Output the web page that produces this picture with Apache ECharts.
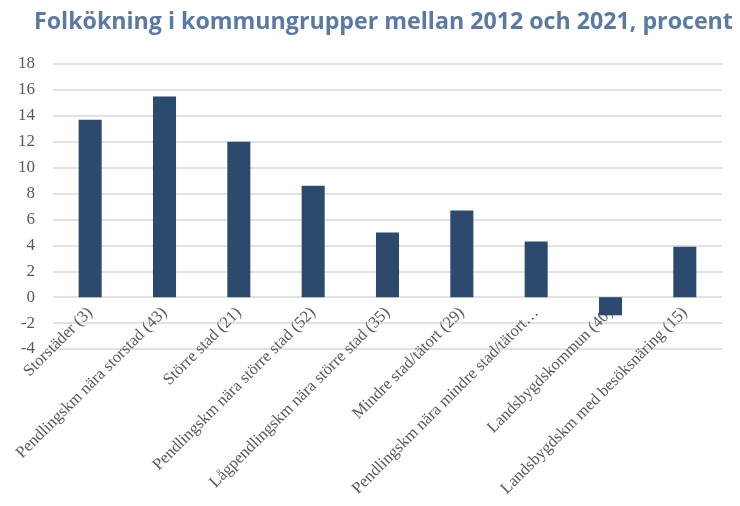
<!DOCTYPE html>
<html>
<head>
<meta charset="utf-8">
<script src="https://cdn.jsdelivr.net/npm/echarts@6/dist/echarts.min.js"></script>
<style>
    html, body { margin: 0; padding: 0; background: #fff; }
    #chart { width: 740px; height: 506px; }
</style>
</head>
<body>
<div id="chart"></div>
<script>
    // kommungrupper och folkökning 2012-2021 (procent)
    const categories = [
        "Storstäder (3)",
        "Pendlingskm nära storstad (43)",
        "Större stad (21)",
        "Pendlingskm nära större stad (52)",
        "Lågpendlingskm nära större stad (35)",
        "Mindre stad/tätort (29)",
        "Pendlingskm nära mindre stad/tätort…",
        "Landsbygdskommun (40)",
        "Landsbygdskm med besöksnäring (15)"
    ];
    const values = [13.7, 15.5, 12.0, 8.6, 5.0, 6.7, 4.3, -1.4, 3.9];
    const yTicks = { min: -4, max: 18, interval: 2 };

    const gridTop = 64;
    const gridBottom = 157;
    const plotHeight = 506 - gridTop - gridBottom;
    // flytta kategoriaxeln upp till 0-linjen (som i Excel)
    const zeroOffset = -plotHeight * (0 - yTicks.min) / (yTicks.max - yTicks.min);

    const chart = echarts.init(document.getElementById("chart"));

    const option = {
        animation: false,
        title: {
            text: "Folkökning i kommungrupper mellan 2012 och 2021, procent",
            left: 29,
            top: 6,
            textStyle: {
                fontFamily: "Open Sans",
                fontWeight: "bold",
                fontSize: 23.2,
                color: "#5a7aa3"
            }
        },
        grid: {
            left: 53,
            right: 18,
            top: gridTop,
            bottom: gridBottom,
            containLabel: false,
            outerBoundsMode: "none"
        },
        xAxis: {
            type: "category",
            data: categories,
            offset: zeroOffset,
            axisLine: { show: false, onZero: false },
            axisTick: { show: false },
            axisLabel: {
                rotate: 45,
                interval: 0,
                margin: 13,
                fontFamily: "Liberation Serif",
                fontSize: 16.5,
                color: "#595959"
            }
        },
        yAxis: {
            type: "value",
            min: yTicks.min,
            max: yTicks.max,
            interval: yTicks.interval,
            axisLine: { show: false },
            axisTick: { show: false },
            axisLabel: {
                margin: 18,
                fontFamily: "Liberation Serif",
                fontSize: 17,
                color: "#595959"
            },
            splitLine: {
                lineStyle: { color: "#d9d9d9", width: 1.5 }
            }
        },
        series: [
            {
                type: "bar",
                data: values,
                barWidth: "31%",
                itemStyle: { color: "#2c4a6e" }
            }
        ]
    };

    chart.setOption(option);
</script>
</body>
</html>
